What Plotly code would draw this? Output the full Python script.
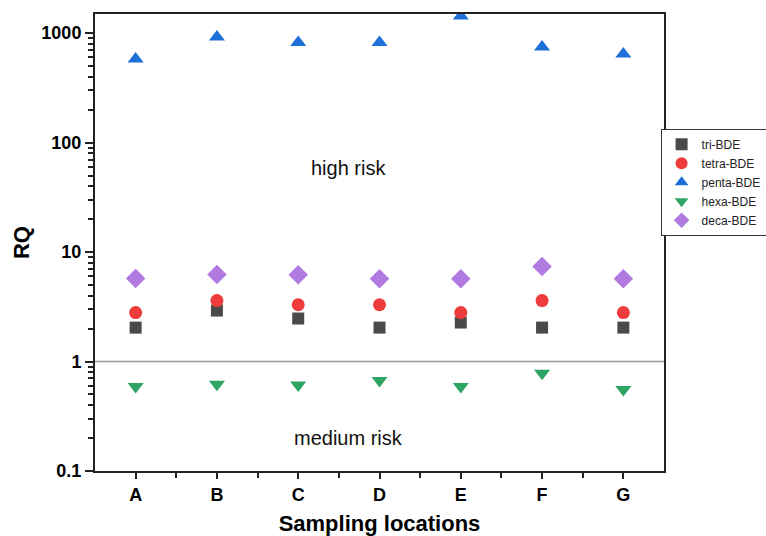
import plotly.graph_objects as go

locations = ["A", "B", "C", "D", "E", "F", "G"]
tri_bde = [2.04, 2.92, 2.47, 2.04, 2.27, 2.04, 2.04]
tetra_bde = [2.8, 3.6, 3.3, 3.3, 2.8, 3.6, 2.8]
penta_bde = [580, 920, 820, 820, 1430, 745, 643]
hexa_bde = [0.59, 0.62, 0.61, 0.67, 0.59, 0.78, 0.555]
deca_bde = [5.73, 6.23, 6.2, 5.7, 5.7, 7.37, 5.7]

y_ticks = [0.1, 1, 10, 100, 1000]
y_ticktext = ["0.1", "1", "10", "100", "1000"]

xi = list(range(len(locations)))

series = [
    ("tri-BDE", tri_bde, "square", "#4a4a4a", 12),
    ("tetra-BDE", tetra_bde, "circle", "#ee3b3b", 13),
    ("penta-BDE", penta_bde, "triangle-up", "#1f6fd8", 14),
    ("hexa-BDE", hexa_bde, "triangle-down", "#2ea564", 14),
    ("deca-BDE", deca_bde, "diamond", "#b07ae0", 15),
]

fig = go.Figure()
for name, vals, sym, col, sz in series:
    fig.add_trace(go.Scatter(
        x=xi, y=vals, mode="markers", name=name,
        marker=dict(symbol=sym, color=col, size=sz, line=dict(width=0)),
        cliponaxis=True,
    ))

minor_vals = [m * 10 ** e for e in range(-1, 4) for m in range(2, 10)]

fig.update_layout(
    width=766, height=536,
    margin=dict(l=95, r=102, t=14, b=65, autoexpand=False),
    paper_bgcolor="white", plot_bgcolor="white",
    font=dict(family="Liberation Sans, Arial, sans-serif", color="black"),
    showlegend=True,
    legend=dict(
        x=0.994, xanchor="left", y=0.632, yanchor="middle",
        bgcolor="white",
        bordercolor="#333", borderwidth=1,
        font=dict(size=12, color="#222"),
        itemsizing="constant",
        itemwidth=30,
        tracegroupgap=0,
    ),
    xaxis=dict(
        range=[-0.5, 6.5],
        tickvals=xi, ticktext=locations,
        ticks="outside", ticklen=6, tickwidth=2, tickcolor="#222",
        minor=dict(tickvals=[i + 0.5 for i in xi[:-1]], ticks="outside", ticklen=5, tickwidth=2, tickcolor="#222"),
        showline=True, mirror=True, linecolor="#222", linewidth=2,
        showgrid=False, zeroline=False,
        tickfont=dict(size=18, weight="bold"),
        title=dict(text="Sampling locations", font=dict(size=22, weight="bold"), standoff=14),
    ),
    yaxis=dict(
        type="log", range=[-1, 3.174],
        tickvals=y_ticks, ticktext=y_ticktext,
        ticks="outside", ticklen=8, tickwidth=2, tickcolor="#222",
        minor=dict(tickvals=minor_vals, ticks="outside", ticklen=5, tickwidth=1.5, tickcolor="#222"),
        showline=True, mirror=True, linecolor="#222", linewidth=2,
        showgrid=False, zeroline=False,
        tickfont=dict(size=18, weight="bold"),
        title=dict(text="RQ", font=dict(size=22, weight="bold"), standoff=6),
    ),
)

fig.add_shape(type="line", xref="paper", x0=0, x1=1, yref="y", y0=1, y1=1,
              line=dict(color="#999", width=1.5))

fig.add_annotation(x=2.62, y=1.767, yref="y", xref="x", text="high risk", showarrow=False,
                   font=dict(size=20, color="#111"))
fig.add_annotation(x=2.62, y=-0.694, yref="y", xref="x", text="medium risk", showarrow=False,
                   font=dict(size=20, color="#111"))

fig.write_html("out.html")
